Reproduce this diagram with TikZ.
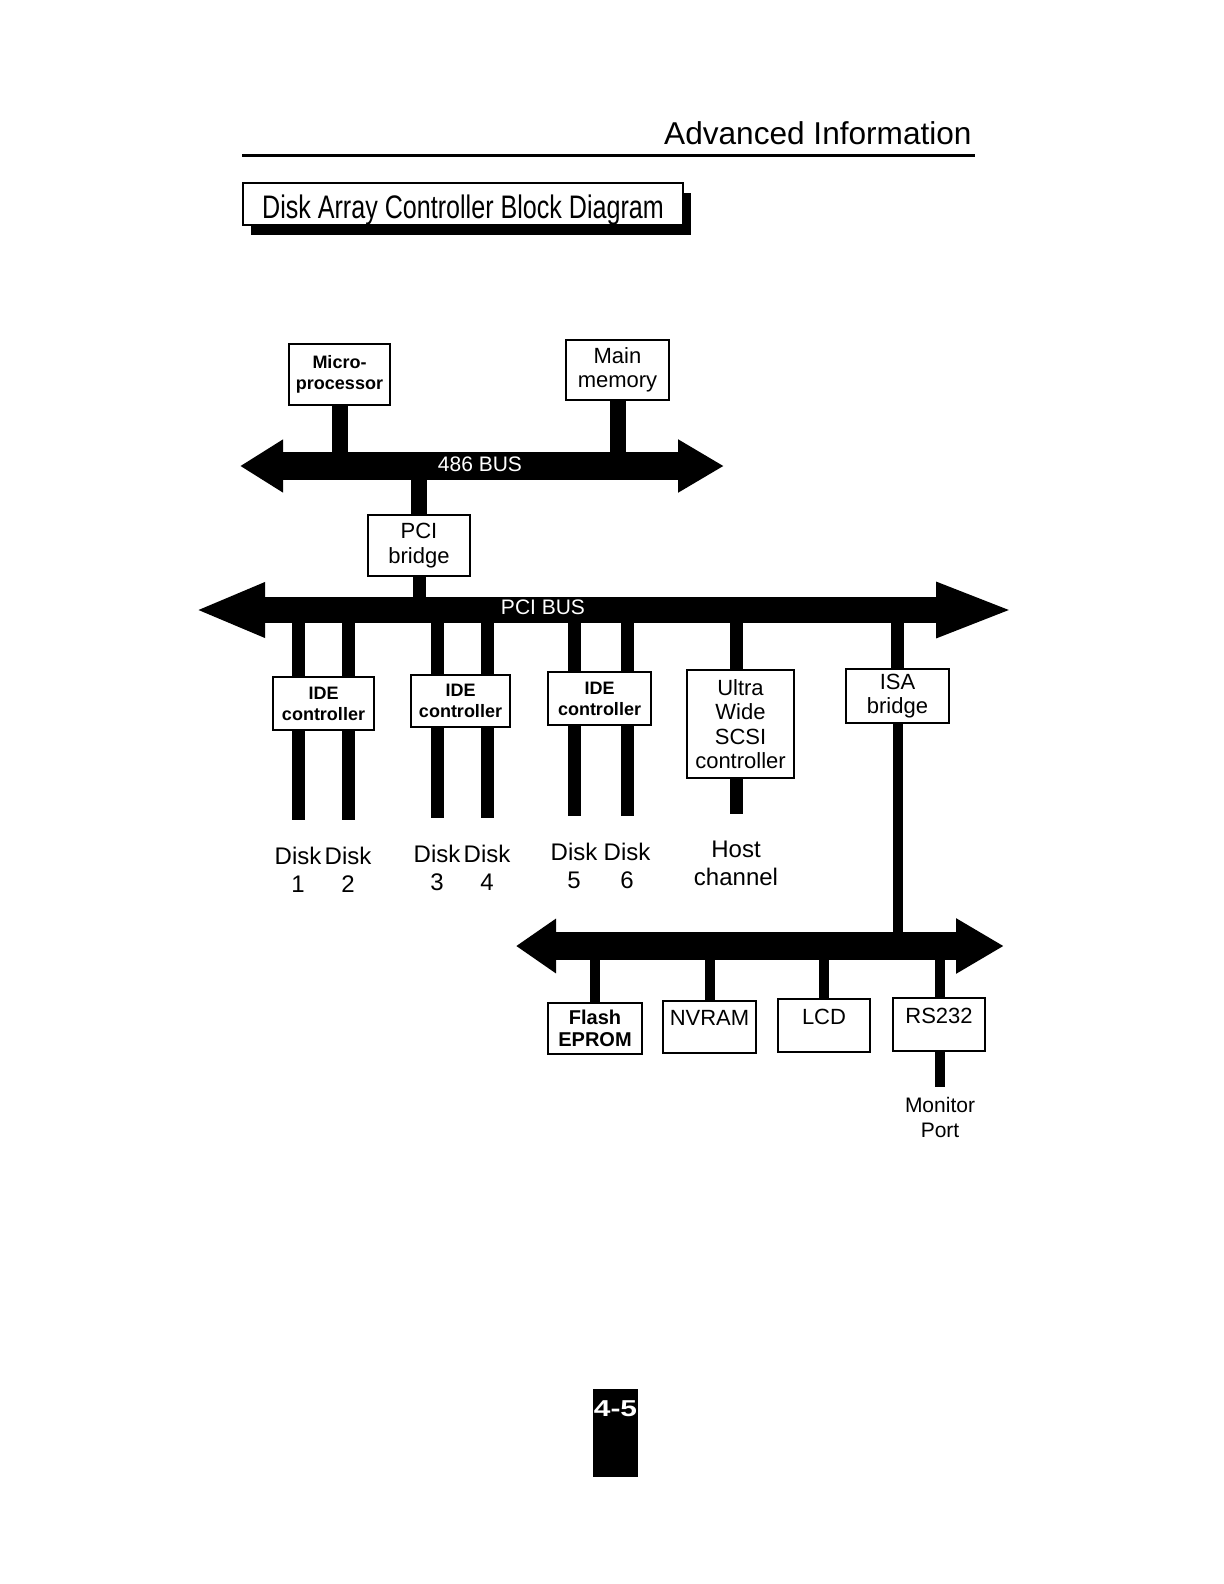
\documentclass[tikz,border=0pt]{standalone}
\usepackage{fontspec}
\usepackage{graphicx}
\setmainfont{Liberation Sans}
\newfontfamily\narrowfont[FakeStretch=0.77]{Liberation Sans}
\usetikzlibrary{arrows.meta,positioning,shadows}

\begin{document}
\begin{tikzpicture}[
    x=0.5pt, y=-0.5pt,
    box/.style={rectangle, draw, line width=1.4pt, fill=white, align=center, inner sep=1pt},
    boldbox/.style={box, font=\fontsize{9}{10.5}\selectfont\bfseries},
    plainbox/.style={box, font=\fontsize{11}{12.2}\selectfont},
    raised/.style={text depth=9pt},
    lbl/.style={inner sep=0pt, align=center, font=\fontsize{12}{14}\selectfont},
    buslabel/.style={text=white, inner sep=0pt, font=\fontsize{10.5}{12}\selectfont},
    bigstub/.style={line width=8pt},
    pcistub/.style={line width=6.5pt},
    isastub/.style={line width=5pt}
]
    \useasboundingbox (0,0) rectangle (1224,1584);

    % page header
    \node[anchor=east, inner sep=0pt, font=\fontsize{15.8}{18}\selectfont] (header) at (972,133) {Advanced Information};
    \coordinate (rulel) at (242,155);
    \coordinate (ruler) at (975,155);
    \draw[line width=1.5pt] (rulel) -- (ruler);
    \node[draw, line width=0.8pt, fill=white, minimum width=220pt, minimum height=21pt, inner sep=0pt,
          text height=14.3pt, text depth=0pt,
          drop shadow={shadow xshift=4pt, shadow yshift=-5pt, fill=black, opacity=1},
          font=\narrowfont\fontsize{16.3}{19}\selectfont] (title) at (463,204) {Disk Array Controller Block Diagram};

    % 486 bus
    \coordinate (b486w) at (240,466);
    \coordinate (b486e) at (724,466);
    \draw[line width=14pt, {Triangle[length=21.5pt,width=25pt]}-{Triangle[length=23pt,width=25pt]}] (b486w) -- (b486e);

    \node[boldbox, minimum width=50.5pt, minimum height=30.5pt] (micro) at (339.5,374.5) {Micro-\\processor};
    \node[plainbox, minimum width=51.5pt, minimum height=30pt] (mainmem) at (617.5,370) {Main\\memory};
    \node[plainbox, minimum width=51pt, minimum height=30.5pt] (pcibr) at (419,545.5) {PCI\\bridge};
    \draw[bigstub] (micro.south) -- (micro.south |- b486w);
    \draw[bigstub] (mainmem.south) -- (mainmem.south |- b486w);
    \draw[bigstub] (pcibr.north) -- (pcibr.north |- b486w);

    % PCI bus
    \coordinate (pciw) at (195,610);
    \coordinate (pcie) at (1014,610);
    \draw[line width=13pt, {Triangle[length=35pt,width=25pt]}-{Triangle[length=39pt,width=25pt]}] (pciw) -- (pcie);
    \draw[pcistub] (pcibr.south) -- (pcibr.south |- pciw);

    \node[boldbox, minimum width=50.5pt, minimum height=26.5pt] (ide1) at (323.5,703.5) {IDE\\controller};
    \node[boldbox, minimum width=49.5pt, minimum height=26pt] (ide2) at (460.5,701) {IDE\\controller};
    \node[boldbox, minimum width=51.5pt, minimum height=26.5pt] (ide3) at (599.5,698.5) {IDE\\controller};
    \node[plainbox, minimum width=53.5pt, minimum height=54pt] (scsi) at (740.5,724) {Ultra\\Wide\\SCSI\\controller};
    \node[plainbox, minimum width=51.5pt, minimum height=27pt] (isabr) at (897.5,696) {ISA\\bridge};

    \node[lbl] (d1) at (298,870) {Disk\\1};
    \node[lbl] (d2) at (348,870) {Disk\\2};
    \node[lbl] (d3) at (437,868) {Disk\\3};
    \node[lbl] (d4) at (487,868) {Disk\\4};
    \node[lbl] (d5) at (574,866) {Disk\\5};
    \node[lbl] (d6) at (627,866) {Disk\\6};
    \node[lbl] (host) at (736,863) {Host\\channel};

    \foreach \d/\c in {d1/ide1,d2/ide1,d3/ide2,d4/ide2,d5/ide3,d6/ide3} {
        \draw[pcistub] (\d |- \c.north) -- (\d |- pciw);
        \draw[pcistub, shorten >=13.5pt] (\d |- \c.south) -- (\d.north);
    }
    \draw[pcistub] (host |- scsi.north) -- (host |- pciw);
    \draw[pcistub, shorten >=13pt] (host |- scsi.south) -- (host.north);
    \draw[pcistub] (isabr.north) -- (isabr.north |- pciw);

    % ISA bus
    \coordinate (isaw) at (516,946);
    \coordinate (isae) at (1004,946);
    \draw[line width=14pt, {Triangle[length=20pt,width=26pt]}-{Triangle[length=24pt,width=26pt]}] (isaw) -- (isae);
    \draw[isastub] (isabr.south) -- (isabr.south |- isaw);

    \node[box, font=\fontsize{10}{11}\selectfont\bfseries, minimum width=47pt, minimum height=25.5pt] (flash) at (595,1028.5) {Flash\\EPROM};
    \node[plainbox, raised, minimum width=46.5pt, minimum height=26pt] (nvram) at (709.5,1027) {NVRAM};
    \node[plainbox, raised, minimum width=46pt, minimum height=26.5pt] (lcd) at (824,1025.5) {LCD};
    \node[plainbox, raised, minimum width=46pt, minimum height=26.5pt] (rs232) at (939,1024.5) {RS232};
    \node[lbl, font=\fontsize{10.5}{12.5}\selectfont] (monitor) at (940,1117) {Monitor\\Port};

    \foreach \n in {flash,nvram,lcd} {
        \draw[isastub] (\n.north) -- (\n.north |- isaw);
    }
    \draw[isastub] (monitor |- rs232.north) -- (monitor |- isaw);
    \draw[isastub, shorten >=4.5pt] (monitor |- rs232.south) -- (monitor.north);

    % bus names on top of the stubs
    \node[buslabel] (b486) at (480,464) {486 BUS};
    \node[buslabel] (pcibus) at (543,607) {PCI BUS};

    % page tab
    \node[fill=black, minimum width=22.5pt, minimum height=44pt, inner sep=0pt] (tab) at (615.5,1433) {};
    \node[text=white, anchor=north, inner sep=0pt, font=\fontsize{11.5}{13}\selectfont\bfseries] (pagenum) at ([yshift=-6pt]tab.north) {\scalebox{1.3}[1]{4-5}};
\end{tikzpicture}
\end{document}
